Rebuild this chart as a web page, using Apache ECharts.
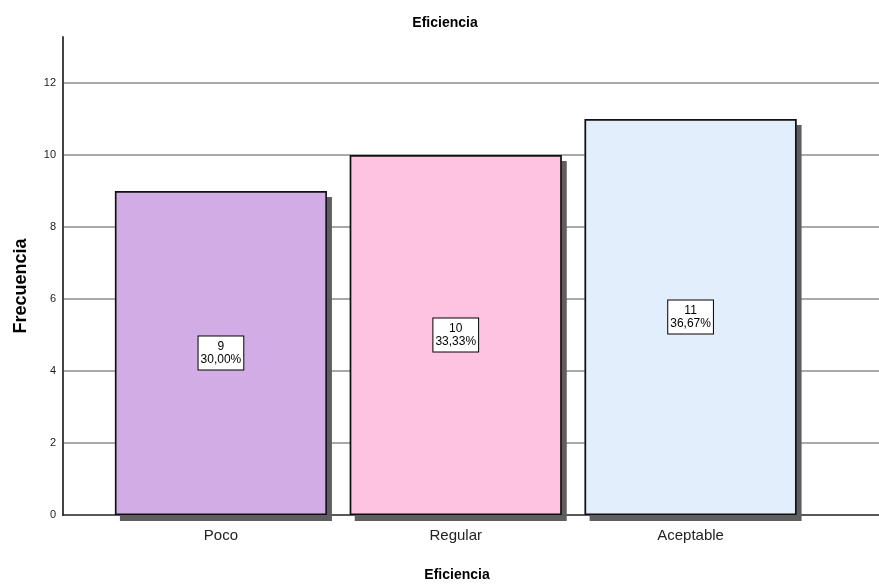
<!DOCTYPE html>
<html>
<head>
<meta charset="utf-8">
<script src="https://cdn.jsdelivr.net/npm/echarts@6/dist/echarts.min.js"></script>
<style>
  html, body { margin: 0; padding: 0; background: #fff; }
  #chart { width: 879px; height: 585px; }
</style>
</head>
<body>
<div id="chart"></div>
<script>
// Frequency table for "Eficiencia"
const categories = ['Poco', 'Regular', 'Aceptable'];
const counts = [9, 10, 11];
const barColors = ['#d2ace5', '#fdc3e1', '#e2eefb'];
const yTicks = [0, 2, 4, 6, 8, 10, 12];

const total = counts.reduce((a, b) => a + b, 0);
const pct = v => (v / total * 100).toFixed(2).replace('.', ',') + '%';

const FONT = '"Liberation Sans", Arial, sans-serif';
const chart = echarts.init(document.getElementById('chart'));

const yMax = 13.28;

chart.setOption({
  animation: false,
  title: [
    { text: 'Eficiencia', left: 440, top: 11, textAlign: 'center',
      textStyle: { fontFamily: FONT, fontSize: 14, fontWeight: 'bold', color: '#000' } },
    { text: 'Eficiencia', left: 452, top: 563, textAlign: 'center',
      textStyle: { fontFamily: FONT, fontSize: 14, fontWeight: 'bold', color: '#000' } }
  ],
  // vertical axis title
  graphic: [{
    type: 'text',
    x: 21, y: 286, rotation: Math.PI / 2,
    style: {
      text: 'Frecuencia', fontFamily: FONT, fontSize: 18, fontWeight: 'bold',
      fill: '#000', align: 'center', verticalAlign: 'middle'
    }
  }],
  grid: [
    { left: 63, right: 0, top: 37, bottom: 70 },
    { left: 103.5, right: 71, top: 37, bottom: 70 }
  ],
  xAxis: [
    { gridIndex: 0, type: 'value', min: 0, max: 1,
      axisLine: { show: true, lineStyle: { color: '#222', width: 1.5 } },
      axisTick: { show: false }, axisLabel: { show: false }, splitLine: { show: false } },
    { gridIndex: 1, type: 'category', data: categories,
      axisLine: { show: false }, axisTick: { show: false },
      axisLabel: { fontFamily: FONT, fontSize: 15, color: '#222', margin: 13 } }
  ],
  yAxis: [
    { gridIndex: 0, type: 'value', min: 0, max: yMax, interval: 2,
      axisLine: { show: true, lineStyle: { color: '#444', width: 2 } },
      axisTick: { show: false },
      axisLabel: { fontFamily: FONT, fontSize: 11, color: '#222', margin: 7,
        formatter: v => (yTicks.includes(v) ? String(v) : '') },
      splitLine: { show: true, showMinLine: false, showMaxLine: false,
        lineStyle: { color: '#8c8c8c', width: 1.5 } } },
    { gridIndex: 1, type: 'value', min: 0, max: yMax, interval: 2, show: false,
      splitLine: { show: false } }
  ],
  series: [
    // drop shadow: a dark copy whose offset shadow peeks out behind each bar
    {
      type: 'bar',
      xAxisIndex: 1, yAxisIndex: 1,
      barWidth: 212,
      silent: true,
      data: counts,
      itemStyle: {
        color: '#5e5e5e',
        shadowColor: '#5e5e5e', shadowBlur: 0, shadowOffsetX: 5, shadowOffsetY: 6
      }
    },
    {
      type: 'bar',
      xAxisIndex: 1, yAxisIndex: 1,
      barWidth: 212,
      barGap: '-100%',
      data: counts.map((v, i) => ({
        value: v,
        itemStyle: { color: barColors[i] }
      })),
      itemStyle: { borderColor: '#111', borderWidth: 1.6 },
      label: {
        show: true, position: 'inside',
        formatter: p => p.value + '\n' + pct(p.value),
        fontFamily: FONT, fontSize: 12, lineHeight: 13, color: '#000',
        backgroundColor: '#fff', borderColor: '#000', borderWidth: 1,
        padding: [4, 2, 3, 2], align: 'center'
      }
    }
  ]
});
</script>
</body>
</html>
